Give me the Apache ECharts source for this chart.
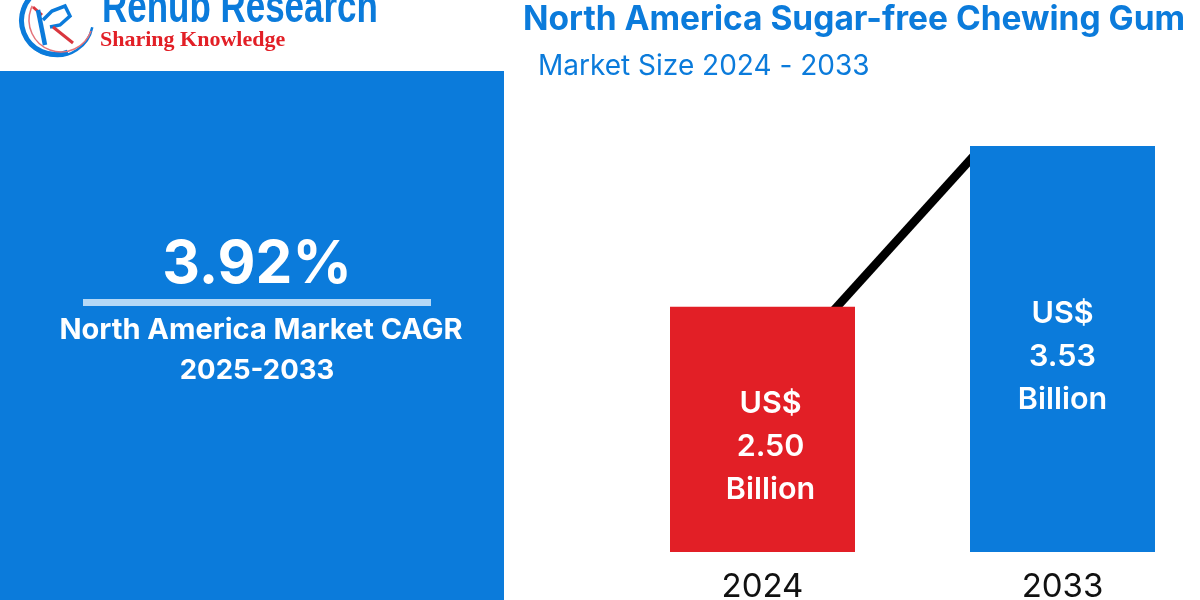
<!DOCTYPE html>
<html><head><meta charset="utf-8">
<script src="https://cdn.jsdelivr.net/npm/echarts@6/dist/echarts.min.js"></script>
<style>html,body{margin:0;padding:0;background:#fff}#c{width:1200px;height:600px}</style></head>
<body><div id="c"></div>
<script>
const categories = ['2024', '2033'];
const marketValues = [2.50, 3.53];
const valueLabels = ['US$\n2.50\nBillion', 'US$\n3.53\nBillion'];
const barColors = ['#e21f26', '#0b7bdb'];
const trendX = [0.22, 0.72];
const trendY = [2.44, 3.50];
const titleText = 'North America Sugar-free Chewing Gum';
const subtitleText = 'Market Size 2024 - 2033';
const cagrValue = '3.92%';
const cagrLabel = 'North America Market CAGR';
const cagrPeriod = '2025-2033';
const BLUE = '#0b7bdb', F = 'Inter, sans-serif';
const labelOffsets = [[8, 17], [0, 8]];

function t(x, y, text, size, weight, fill, family, align, extra) {
  return Object.assign({ type: 'text', z: 10, style: { x, y, text, fill, fontSize: size, fontWeight: weight,
    fontFamily: family || F, align: align || 'center', verticalAlign: 'middle' } }, extra || {});
}
function stroke(points, color, width) {
  return { type: 'polyline', z: 7, shape: { points }, style: { stroke: color, lineWidth: width, fill: 'none' } };
}
const chart = echarts.init(document.getElementById('c'), null, { renderer: 'canvas' });
chart.setOption({
  backgroundColor: '#fff',
  animation: false,
  grid: { left: 612.5, top: 146, width: 600, height: 406, outerBoundsMode: 'none' },
  xAxis: [
    { type: 'category', data: categories,
      axisLine: { show: false }, axisTick: { show: false },
      axisLabel: { color: '#111', fontSize: 33, fontFamily: F, margin: 19 } },
    { type: 'value', min: -0.5, max: 1.5, show: false, position: 'top', splitLine: { show: false } }
  ],
  yAxis: { type: 'value', min: 0.93, max: 3.53, show: false, splitLine: { show: false } },
  series: [
    { type: 'line', xAxisIndex: 1, data: trendX.map((x, i) => [x, trendY[i]]), clip: false, z: 1,
      symbol: 'none', silent: true, lineStyle: { color: '#000', width: 8.5 } },
    { type: 'bar', z: 2, barWidth: 185,
      data: marketValues.map((v, i) => ({ value: v, itemStyle: { color: barColors[i] },
        label: { offset: labelOffsets[i] } })),
      label: { show: true, position: 'inside', color: '#fff', fontSize: 30.5, fontWeight: 600,
        fontFamily: F, lineHeight: 43, align: 'center',
        formatter: p => valueLabels[p.dataIndex] } }
  ],
  graphic: [
    { type: 'rect', z: 0, shape: { x: 0, y: 71, width: 504, height: 529 }, style: { fill: BLUE } },
    { type: 'rect', z: 5, shape: { x: 83, y: 299, width: 348, height: 7 }, style: { fill: '#b5d8f6' } },
    t(257, 265, cagrValue, 58.5, 700, '#fff'),
    t(261, 330, cagrLabel, 29, 700, '#fff'),
    t(257, 371, cagrPeriod, 27.5, 700, '#fff'),
    t(523, 20, titleText, 33.5, 700, BLUE, F, 'left'),
    t(538, 67, subtitleText, 28, 400, BLUE, F, 'left'),
    t(102, 9, 'Renub Research', 46, 700, BLUE, '"Liberation Sans"', 'left', { scaleX: 0.76, originX: 102, originY: 9 }),
    t(100, 40, 'Sharing Knowledge', 22, 700, '#e21f26', '"Liberation Serif"', 'left'),
    { type: 'arc', z: 6, shape: { cx: 57, cy: 20, r: 36, startAngle: 0.2, endAngle: 4.3, clockwise: true },
      style: { stroke: BLUE, lineWidth: 2.5, fill: 'none' } },
    { type: 'arc', z: 6, shape: { cx: 55.5, cy: 20.5, r: 34, startAngle: 1.2, endAngle: 4.2, clockwise: true },
      style: { stroke: BLUE, lineWidth: 5, fill: 'none' } },
    { type: 'arc', z: 7, shape: { cx: 61, cy: 20, r: 32, startAngle: 0.35, endAngle: 3.6, clockwise: true },
      style: { stroke: '#e4737a', lineWidth: 1.5, fill: 'none' } },
    stroke([[33, 7], [42, 15]], '#d9363e', 3),
    stroke([[38, 10], [45, 45]], BLUE, 4.5),
    stroke([[43, 20], [52, 11], [65, 6], [70, 16], [60, 25], [50, 27]], BLUE, 3.5),
    stroke([[53, 27], [73, 43]], '#d9363e', 3)
  ]
});
</script></body></html>
